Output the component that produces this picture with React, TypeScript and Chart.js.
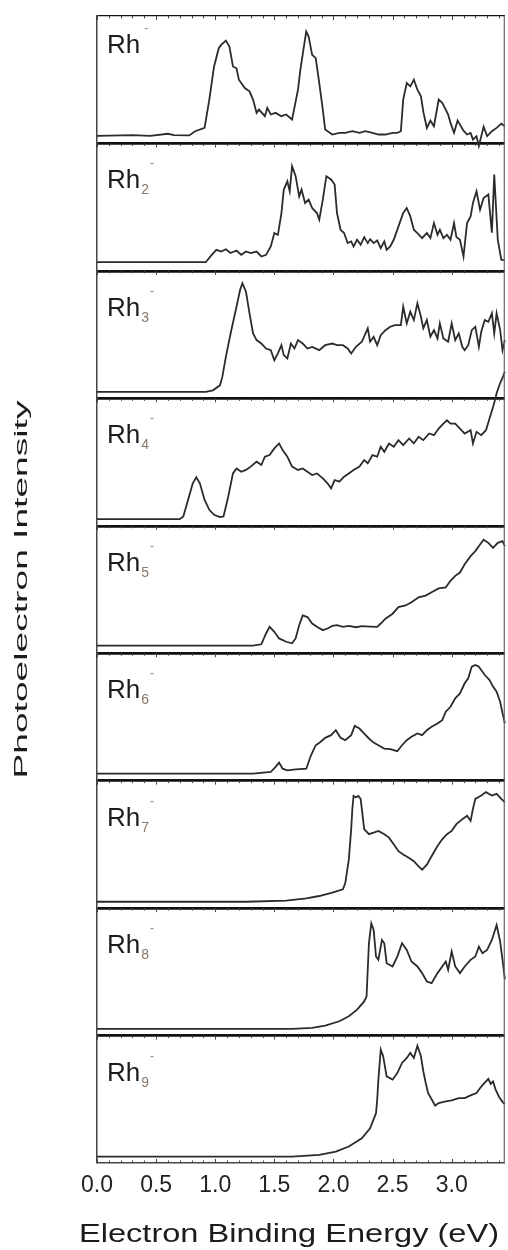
import React, { useEffect, useRef } from 'react';
import { Chart, registerables } from 'chart.js';

Chart.register(...registerables);

// ---------------- data ----------------
const clusterElement = 'Rh';
const clusterSizes = ['', '2', '3', '4', '5', '6', '7', '8', '9'];
const chargeSign = '-';
const xAxisTitle = 'Electron Binding Energy (eV)';
const yAxisTitle = 'Photoelectron Intensity';
const xMin = 0;
const xMax = 3.45;

type P = [number, number];

const rh1: P[] = [[0,6],[0.30,6.5],[0.45,6],[0.60,7.6],[0.65,6.5],[0.78,6.3],[0.83,9.6],[0.91,12.2],[0.95,34.4],[0.99,60.4],[1.03,74.7],[1.05,77.3],[1.09,80.7],[1.12,76],[1.15,60.4],[1.18,59],[1.20,50],[1.25,43.5],[1.29,40.9],[1.32,34.4],[1.35,24],[1.37,26.6],[1.42,21.4],[1.44,27.9],[1.47,22.7],[1.51,24],[1.56,21.4],[1.60,22.7],[1.65,18.8],[1.70,42.2],[1.72,57.8],[1.75,76],[1.77,87.8],[1.79,83.9],[1.82,69.5],[1.85,66.9],[1.88,47.4],[1.91,26.6],[1.93,10.9],[1.99,7],[2.05,8.3],[2.10,8.3],[2.16,9.6],[2.22,8.3],[2.27,9.6],[2.33,8.3],[2.38,7],[2.44,7],[2.50,8.3],[2.54,8.3],[2.57,9.6],[2.59,34.4],[2.62,47.4],[2.65,44.8],[2.68,50],[2.71,42.2],[2.74,37],[2.76,25],[2.79,12.2],[2.82,18],[2.85,13.5],[2.89,34.4],[2.92,31.8],[2.95,26.6],[2.97,22.7],[2.99,16.1],[3.02,8.3],[3.05,18],[3.07,14.8],[3.10,10],[3.13,7],[3.16,8.3],[3.18,3],[3.21,5.7],[3.23,-2],[3.27,13],[3.30,5.7],[3.34,9.6],[3.38,12.2],[3.42,15.5],[3.45,13.5]];

const rh2: P[] = [[0,6.8],[0.92,6.8],[0.97,12.6],[1.01,16.5],[1.05,15.2],[1.09,17],[1.13,14],[1.18,16],[1.22,12.6],[1.26,15.2],[1.30,14],[1.35,15.2],[1.39,11.3],[1.43,12.6],[1.47,19.2],[1.50,29.7],[1.53,28.3],[1.56,45.4],[1.58,63.8],[1.61,70.3],[1.63,62.5],[1.65,82.2],[1.68,74.3],[1.71,58.5],[1.73,63.8],[1.76,53.3],[1.79,55.9],[1.82,49.3],[1.86,45.4],[1.88,40.2],[1.91,55.9],[1.94,74.3],[1.98,71.7],[2.01,67.7],[2.03,45.4],[2.06,32.3],[2.09,29.7],[2.12,21.8],[2.15,23.1],[2.17,19.2],[2.20,24.4],[2.23,20.5],[2.26,26.5],[2.29,21.8],[2.31,24.9],[2.34,21.8],[2.37,23.9],[2.40,17.8],[2.43,23.1],[2.45,16.5],[2.48,19.2],[2.51,24.4],[2.55,34.9],[2.59,45.4],[2.62,49.3],[2.65,42.8],[2.68,32.3],[2.71,29.7],[2.75,25.7],[2.79,29.7],[2.82,25.7],[2.85,37.5],[2.88,28.3],[2.90,32.3],[2.93,25.7],[2.96,28.3],[2.99,24.4],[3.02,37.5],[3.04,26.5],[3.07,24.4],[3.10,11.3],[3.13,37.5],[3.16,42.8],[3.18,53.3],[3.21,62.5],[3.24,48],[3.27,57.2],[3.31,60],[3.34,30],[3.36,75.6],[3.39,24.4],[3.42,8.7],[3.45,8.7]];

const rh3: P[] = [[0,5],[0.92,5],[0.98,6.3],[1.04,10.2],[1.06,16.8],[1.09,32.5],[1.13,50.9],[1.18,71.9],[1.21,85],[1.23,90.3],[1.26,83.7],[1.29,66.7],[1.32,50.9],[1.35,45.7],[1.39,43],[1.43,39.1],[1.47,37.8],[1.50,29.9],[1.53,35.2],[1.56,41.7],[1.58,33.9],[1.61,31.2],[1.64,43],[1.67,39.1],[1.70,45.7],[1.74,43],[1.78,39.1],[1.82,40.4],[1.88,37.8],[1.93,41.7],[1.99,43],[2.03,41.7],[2.08,41.7],[2.12,39.1],[2.15,35.2],[2.19,40.4],[2.24,44.4],[2.29,54.9],[2.31,44.4],[2.34,48.3],[2.37,41.7],[2.40,49.6],[2.44,53.5],[2.48,56.2],[2.52,57.5],[2.57,57.5],[2.59,71.9],[2.62,58.8],[2.65,68],[2.68,61.4],[2.71,74.5],[2.74,64],[2.76,54.9],[2.79,61.4],[2.82,48.3],[2.85,53.5],[2.88,47],[2.90,58.8],[2.93,47],[2.97,44.4],[3.00,58.8],[3.03,45.7],[3.06,50.9],[3.09,40.4],[3.11,37.8],[3.14,41.7],[3.17,53.5],[3.20,56.2],[3.23,40.4],[3.25,52.2],[3.28,61.4],[3.31,60.1],[3.34,66.7],[3.36,50.9],[3.38,66.7],[3.41,53.5],[3.43,37.8],[3.45,45.7]];

const rh4: P[] = [[0,5.2],[0.70,5.2],[0.73,7.3],[0.77,20.3],[0.81,33.3],[0.84,38],[0.87,33.3],[0.91,20.3],[0.95,12.5],[0.99,8.6],[1.04,6.8],[1.07,7.3],[1.11,22.9],[1.15,41.1],[1.18,45],[1.22,42.4],[1.26,43.8],[1.30,46.4],[1.35,50.3],[1.39,47.7],[1.42,54.2],[1.46,55.5],[1.50,60.7],[1.54,64.6],[1.57,59.4],[1.61,54.2],[1.65,46.4],[1.70,43.8],[1.74,45],[1.78,42.4],[1.82,39.8],[1.86,41.1],[1.91,37.2],[1.95,33.3],[1.98,29.4],[2.01,35.9],[2.05,34.6],[2.09,38.5],[2.13,41.1],[2.17,43.8],[2.22,46.4],[2.26,51.6],[2.29,49],[2.33,55.5],[2.37,54.2],[2.40,62],[2.43,58.1],[2.47,64.6],[2.51,62],[2.55,67.2],[2.59,63.3],[2.64,68.5],[2.68,64.6],[2.72,69.8],[2.76,67.2],[2.81,72.4],[2.85,71.1],[2.89,76.3],[2.93,80.2],[2.96,82.8],[2.99,80.2],[3.03,80.2],[3.07,76.3],[3.11,72.4],[3.16,75],[3.18,64.6],[3.21,73.7],[3.25,71.1],[3.29,75],[3.32,84.1],[3.35,93.2],[3.37,100],[3.38,104],[3.41,112],[3.43,116],[3.45,121]];

const rh5: P[] = [[0,6],[1.32,6],[1.39,7],[1.43,15.5],[1.46,20.7],[1.50,16.8],[1.54,11.6],[1.60,9],[1.65,7.8],[1.68,11.6],[1.71,22],[1.74,29.7],[1.78,28.4],[1.82,23.3],[1.86,20.7],[1.91,18.1],[1.95,19.4],[1.99,21.4],[2.03,22],[2.08,20.7],[2.13,21.4],[2.19,20.4],[2.24,21.2],[2.31,20.9],[2.37,20.7],[2.40,23.3],[2.44,27.1],[2.50,31],[2.55,36.2],[2.61,37.5],[2.66,40],[2.72,43.9],[2.78,45.2],[2.83,47.8],[2.89,50.9],[2.95,51.7],[2.99,56.8],[3.03,60.7],[3.07,63.3],[3.11,69.8],[3.16,76.2],[3.20,80.1],[3.24,85.3],[3.27,89.1],[3.31,86.6],[3.35,82.7],[3.39,86.6],[3.43,87.9],[3.45,84]];

const rh6: P[] = [[0,5.5],[1.32,5.5],[1.47,6.8],[1.51,10.8],[1.54,14.2],[1.57,9.4],[1.61,8.1],[1.68,8.9],[1.77,9.4],[1.81,19.9],[1.85,27.8],[1.89,30.4],[1.93,33.6],[1.98,35.7],[2.02,39.6],[2.06,33.6],[2.10,31.8],[2.15,35.7],[2.18,43],[2.22,40.9],[2.26,37],[2.30,33.1],[2.34,29.9],[2.38,27.8],[2.43,25.2],[2.48,24.7],[2.54,23.1],[2.58,27.8],[2.62,31.8],[2.66,34.4],[2.71,37],[2.75,35.7],[2.79,39.6],[2.83,42.3],[2.88,44.9],[2.92,47.5],[2.95,54.1],[2.99,58],[3.03,64.6],[3.07,68.5],[3.11,76.4],[3.14,80.3],[3.17,89.5],[3.20,90.8],[3.23,89.5],[3.25,86.9],[3.28,82.9],[3.32,79],[3.35,73.8],[3.38,69.8],[3.41,61.9],[3.43,53],[3.45,45]];

const rh7: P[] = [[0,5],[1.26,5],[1.60,5.8],[1.77,7.7],[1.88,9.5],[1.99,12.2],[2.08,14.8],[2.10,19.6],[2.13,38],[2.15,62],[2.16,78],[2.17,88],[2.19,87],[2.21,88],[2.23,85.7],[2.24,77.8],[2.26,62],[2.30,58],[2.34,59.3],[2.38,60.6],[2.43,58],[2.47,55.3],[2.50,51.3],[2.52,48.7],[2.55,44.7],[2.59,42],[2.64,39.4],[2.68,36.8],[2.72,32.8],[2.75,30.2],[2.79,34.1],[2.83,40.7],[2.88,48.7],[2.92,54],[2.96,58],[3.00,60.6],[3.04,65.9],[3.09,69.8],[3.13,72.5],[3.16,68.5],[3.18,78],[3.20,85.7],[3.25,88.3],[3.29,91],[3.34,88.3],[3.38,89.7],[3.42,85.7],[3.45,83]];

const rh8: P[] = [[0,5.2],[1.65,5.2],[1.82,6],[1.93,7.8],[2.05,11.2],[2.13,15.1],[2.20,20.3],[2.26,26.8],[2.28,30.7],[2.29,51.6],[2.30,72.4],[2.32,88],[2.34,82.8],[2.36,62],[2.38,59.4],[2.41,75],[2.43,72.4],[2.45,56.8],[2.50,54.2],[2.54,62],[2.58,72.4],[2.62,67.2],[2.66,58.1],[2.71,54.2],[2.75,49],[2.79,42.4],[2.83,41.1],[2.88,49],[2.92,54.2],[2.95,58.1],[2.97,51.6],[3.00,65.9],[3.03,54.2],[3.07,49],[3.11,54.2],[3.16,59.4],[3.20,62],[3.23,69.8],[3.26,64.6],[3.30,67.2],[3.34,75],[3.38,86.7],[3.41,73.7],[3.43,59.4],[3.45,44]];

const rh9: P[] = [[0,5],[1.65,5],[1.88,6.3],[2.02,8.9],[2.13,12.9],[2.24,19.4],[2.31,27.3],[2.36,39.1],[2.37,49.6],[2.38,65.4],[2.40,89],[2.42,84],[2.45,68],[2.50,65.4],[2.54,70.6],[2.58,78.5],[2.62,82.4],[2.65,86.4],[2.68,82.4],[2.71,92],[2.74,83.7],[2.76,72],[2.78,63],[2.80,55],[2.83,50],[2.86,45],[2.89,47],[2.95,48.3],[3.00,49.1],[3.06,50.9],[3.11,50.9],[3.17,53.5],[3.21,54.9],[3.25,60],[3.28,63],[3.31,66],[3.33,62],[3.35,64],[3.37,58],[3.40,52],[3.43,48],[3.45,46]];

const spectra: P[][] = [rh1, rh2, rh3, rh4, rh5, rh6, rh7, rh8, rh9];

// ---------------- chart ----------------
const FONT = '"Liberation Sans", Arial, Helvetica, sans-serif';
const panelIds = spectra.map((_, i) => `y${i}`);
const isMajor = (v: number) => Math.abs(v * 2 - Math.round(v * 2)) < 1e-6;

const decorPlugin = {
  id: 'decor',
  afterDraw(chart: any) {
    const ctx: CanvasRenderingContext2D = chart.ctx;
    const xs = chart.scales.x;
    const area = chart.chartArea;
    ctx.save();
    // right frame
    ctx.strokeStyle = '#666';
    ctx.lineWidth = 1.2;
    ctx.beginPath();
    ctx.moveTo(area.right - 0.6, area.top);
    ctx.lineTo(area.right - 0.6, area.bottom);
    ctx.stroke();
    // small tick marks along each panel top and the bottom axis
    ctx.strokeStyle = '#444';
    ctx.lineWidth = 1;
    panelIds.forEach((id) => {
      const ys = chart.scales[id];
      xs.ticks.forEach((t: any) => {
        const px = Math.round(xs.getPixelForValue(t.value)) + 0.5;
        const len = isMajor(t.value) ? 4 : 2.5;
        ctx.beginPath();
        ctx.moveTo(px, ys.top);
        ctx.lineTo(px, ys.top + len);
        ctx.stroke();
      });
    });
    xs.ticks.forEach((t: any) => {
      const px = Math.round(xs.getPixelForValue(t.value)) + 0.5;
      const len = isMajor(t.value) ? 4 : 2.5;
      ctx.beginPath();
      ctx.moveTo(px, area.bottom);
      ctx.lineTo(px, area.bottom - len);
      ctx.stroke();
    });
    // panel labels
    panelIds.forEach((id, i) => {
      const ys = chart.scales[id];
      const base = ys.top + (i === 0 ? 37 : 45);
      const x0 = area.left + 10;
      ctx.textAlign = 'left';
      ctx.textBaseline = 'alphabetic';
      ctx.font = `26px ${FONT}`;
      ctx.fillStyle = '#1c1c1c';
      ctx.fillText(clusterElement, x0, base);
      let x = x0 + ctx.measureText(clusterElement).width + 1;
      if (clusterSizes[i]) {
        ctx.font = `14px ${FONT}`;
        ctx.fillStyle = '#8a7868';
        ctx.fillText(clusterSizes[i], x, base + 6);
        x += ctx.measureText(clusterSizes[i]).width + 1;
      } else {
        x += 3;
      }
      ctx.font = `12px ${FONT}`;
      ctx.fillStyle = '#888';
      ctx.fillText(chargeSign, x, base - 21);
    });
    // y title
    ctx.save();
    ctx.translate(22, (area.top + area.bottom) / 2);
    ctx.rotate(-Math.PI / 2);
    ctx.font = `19px ${FONT}`;
    ctx.fillStyle = '#1c1c1c';
    ctx.textAlign = 'center';
    ctx.textBaseline = 'middle';
    const yw = ctx.measureText(yAxisTitle).width;
    ctx.scale(378 / yw, 1);
    ctx.fillText(yAxisTitle, 0, 0);
    ctx.restore();
    // x title
    ctx.save();
    ctx.translate(289, 1235);
    ctx.font = `25px ${FONT}`;
    ctx.fillStyle = '#1c1c1c';
    ctx.textAlign = 'center';
    ctx.textBaseline = 'middle';
    const xw = ctx.measureText(xAxisTitle).width;
    ctx.scale(420 / xw, 1);
    ctx.fillText(xAxisTitle, 0, 0);
    ctx.restore();
    ctx.restore();
  },
};

export default function App() {
  const ref = useRef<HTMLCanvasElement | null>(null);
  useEffect(() => {
    if (!ref.current) return;
    const last = spectra.length - 1;
    const scales: any = {
      x: {
        type: 'linear',
        position: 'bottom',
        min: xMin,
        max: xMax,
        afterFit: (s: any) => { s.height = 87; },
        ticks: {
          stepSize: 0.1,
          includeBounds: false,
          autoSkip: false,
          maxRotation: 0,
          padding: 9,
          color: '#222',
          font: { family: FONT, size: 23 },
          callback: (v: any) => (isMajor(Number(v)) ? Number(v).toFixed(1) : ''),
        },
        grid: { display: true, drawOnChartArea: false, drawTicks: false },
        border: { display: true, color: '#444', width: 1.5 },
      },
    };
    // define bottom panel first so the first spectrum is stacked on top
    for (let i = last; i >= 0; i--) {
      scales[`y${i}`] = {
        type: 'linear',
        position: 'left',
        stack: 'spectra',
        stackWeight: 1,
        weight: spectra.length - i,
        min: 0,
        max: 100,
        afterBuildTicks: (s: any) => { s.ticks = [{ value: 0 }, { value: 100 }]; },
        afterFit: (s: any) => { s.width = 0; },
        ticks: { display: false },
        grid: {
          display: true,
          drawTicks: false,
          color: '#111',
          lineWidth: (c: any) => {
            const v = c.tick ? c.tick.value : 0;
            if (i === 0 && v === 100) return 1.3;
            if (i === last && v === 0) return 0;
            return 2.4;
          },
        },
        border: { display: true, color: '#444', width: 1.5 },
      };
    }
    const chart = new Chart(ref.current, {
      type: 'line',
      data: {
        datasets: spectra.map((s, i) => ({
          label: `${clusterElement}${clusterSizes[i]}${chargeSign}`,
          data: s.map(([x, y]) => ({ x, y })),
          yAxisID: `y${i}`,
          borderColor: '#2b2b2b',
          borderWidth: 1.8,
          pointRadius: 0,
          tension: 0,
          fill: false,
          clip: false as any,
        })),
      },
      options: {
        responsive: false,
        animation: false,
        events: [],
        layout: { padding: { top: 16, left: 97, right: 2, bottom: 0 } },
        plugins: { legend: { display: false }, tooltip: { enabled: false }, title: { display: false } },
        scales,
      },
      plugins: [decorPlugin],
    });
    return () => chart.destroy();
  }, []);
  return (
    <div style={{ position: 'absolute', left: 0, top: 0, width: 508, height: 1250, background: '#fff' }}>
      <canvas ref={ref} width={508} height={1250} style={{ display: 'block', width: 508, height: 1250 }} />
    </div>
  );
}
